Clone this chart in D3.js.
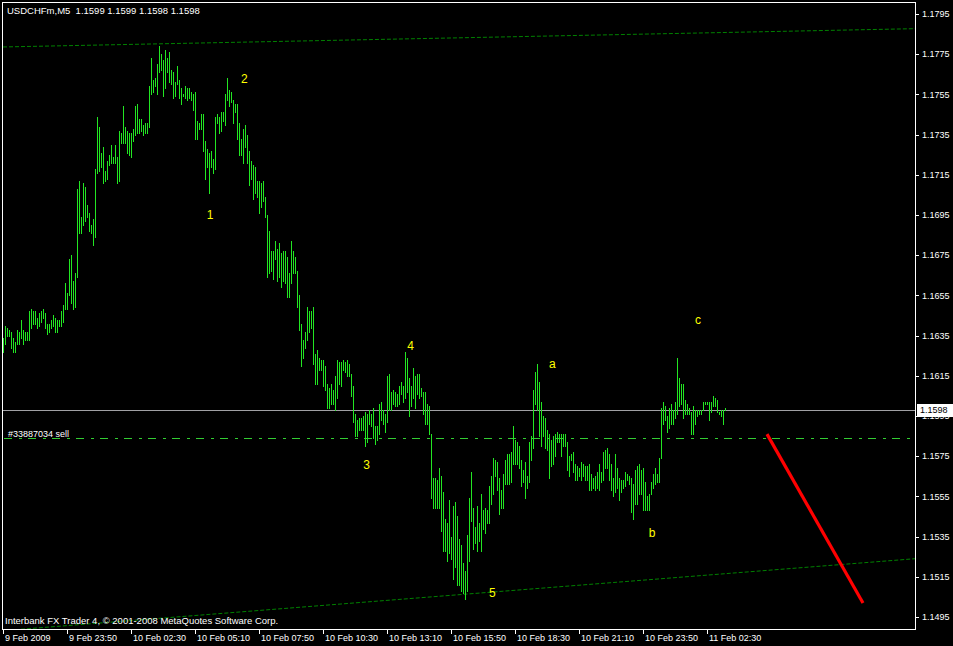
<!DOCTYPE html>
<html><head><meta charset="utf-8">
<script src="https://cdn.jsdelivr.net/npm/d3@7"></script>
<style>html,body{margin:0;padding:0;background:#000;overflow:hidden}svg{display:block}</style>
</head><body><svg id="c" width="953" height="646"></svg>
<script>
const symbolTitle = "USDCHFm,M5";
const titleValues = ["1.1599", "1.1599", "1.1598", "1.1598"];
const copyrightText = "Interbank FX Trader 4, \u00A9 2001-2008 MetaQuotes Software Corp.";

const highs = [
1.1634,1.1640,1.1639,1.1638,1.1637,1.1634,1.1632,1.1638,1.1637,1.1643,
1.1638,1.1637,1.1637,1.1647,1.1648,1.1647,1.1647,1.1644,1.1646,1.1647,
1.1648,1.1646,1.1641,1.1641,1.1643,1.1645,1.1644,1.1643,1.1643,1.1647,
1.1650,1.1661,1.1656,1.1673,1.1675,1.1662,1.1666,1.1708,1.1712,1.1694,
1.1711,1.1709,1.1700,1.1696,1.1690,1.1693,1.1718,1.1744,1.1739,1.1726,
1.1729,1.1717,1.1722,1.1725,1.1730,1.1724,1.1730,1.1724,1.1737,1.1736,
1.1749,1.1739,1.1737,1.1736,1.1736,1.1738,1.1749,1.1750,1.1743,1.1743,
1.1740,1.1741,1.1741,1.1759,1.1773,1.1762,1.1763,1.1770,1.1779,1.1775,
1.1772,1.1777,1.1773,1.1776,1.1767,1.1766,1.1761,1.1769,1.1762,1.1758,
1.1755,1.1759,1.1758,1.1758,1.1756,1.1755,1.1756,1.1742,1.1741,1.1745,
1.1745,1.1732,1.1728,1.1726,1.1727,1.1723,1.1744,1.1745,1.1744,1.1746,
1.1746,1.1755,1.1763,1.1757,1.1756,1.1752,1.1750,1.1750,1.1741,1.1733,
1.1738,1.1740,1.1735,1.1727,1.1722,1.1720,1.1719,1.1712,1.1712,1.1711,
1.1712,1.1704,1.1695,1.1687,1.1677,1.1677,1.1682,1.1678,1.1681,1.1676,
1.1677,1.1677,1.1674,1.1666,1.1682,1.1677,1.1674,1.1667,1.1655,1.1641,
1.1633,1.1637,1.1649,1.1647,1.1647,1.1649,1.1626,1.1628,1.1624,1.1623,
1.1623,1.1620,1.1611,1.1609,1.1611,1.1608,1.1615,1.1623,1.1622,1.1622,
1.1623,1.1622,1.1623,1.1621,1.1616,1.1610,1.1596,1.1593,1.1594,1.1594,
1.1595,1.1597,1.1596,1.1598,1.1596,1.1599,1.1590,1.1590,1.1601,1.1602,
1.1598,1.1596,1.1615,1.1616,1.1607,1.1608,1.1607,1.1606,1.1610,1.1612,
1.1610,1.1627,1.1624,1.1614,1.1610,1.1619,1.1615,1.1616,1.1616,1.1609,
1.1607,1.1607,1.1601,1.1600,1.1586,1.1564,1.1564,1.1563,1.1569,1.1565,
1.1557,1.1544,1.1542,1.1553,1.1535,1.1550,1.1552,1.1545,1.1534,1.1531,
1.1522,1.1518,1.1536,1.1554,1.1567,1.1549,1.1540,1.1550,1.1542,1.1556,
1.1548,1.1549,1.1548,1.1560,1.1565,1.1574,1.1573,1.1572,1.1564,1.1558,
1.1566,1.1573,1.1576,1.1576,1.1577,1.1590,1.1583,1.1582,1.1580,1.1573,
1.1568,1.1572,1.1565,1.1582,1.1585,1.1608,1.1617,1.1621,1.1612,1.1602,
1.1595,1.1594,1.1588,1.1586,1.1583,1.1585,1.1586,1.1587,1.1586,1.1586,
1.1586,1.1586,1.1582,1.1575,1.1576,1.1577,1.1571,1.1570,1.1569,1.1572,
1.1571,1.1570,1.1570,1.1571,1.1566,1.1564,1.1565,1.1567,1.1571,1.1567,
1.1577,1.1578,1.1579,1.1576,1.1571,1.1564,1.1576,1.1569,1.1564,1.1563,
1.1563,1.1567,1.1566,1.1565,1.1564,1.1561,1.1568,1.1570,1.1571,1.1568,
1.1569,1.1562,1.1555,1.1556,1.1562,1.1566,1.1569,1.1566,1.1574,1.1599,
1.1602,1.1600,1.1595,1.1599,1.1601,1.1598,1.1602,1.1624,1.1614,1.1611,
1.1611,1.1603,1.1601,1.1599,1.1597,1.1600,1.1598,1.1598,1.1598,1.1598,
1.1602,1.1602,1.1602,1.1602,1.1602,1.1605,1.1604,1.1603,1.1597,1.1598,
1.1598,1.1599];

const lows = [
1.1627,1.1631,1.1635,1.1635,1.1629,1.1627,1.1627,1.1631,1.1631,1.1634,
1.1631,1.1633,1.1633,1.1633,1.1639,1.1641,1.1641,1.1639,1.1640,1.1642,
1.1644,1.1639,1.1636,1.1637,1.1639,1.1640,1.1637,1.1637,1.1640,1.1640,
1.1642,1.1648,1.1648,1.1655,1.1651,1.1648,1.1649,1.1664,1.1686,1.1686,
1.1690,1.1692,1.1694,1.1687,1.1686,1.1680,1.1684,1.1716,1.1717,1.1719,
1.1711,1.1712,1.1713,1.1720,1.1721,1.1721,1.1721,1.1711,1.1712,1.1731,
1.1731,1.1731,1.1726,1.1725,1.1724,1.1732,1.1735,1.1736,1.1736,1.1737,
1.1735,1.1736,1.1736,1.1739,1.1755,1.1756,1.1759,1.1755,1.1766,1.1767,
1.1754,1.1758,1.1766,1.1761,1.1760,1.1753,1.1754,1.1760,1.1753,1.1750,
1.1754,1.1753,1.1752,1.1753,1.1752,1.1747,1.1733,1.1733,1.1738,1.1738,
1.1727,1.1713,1.1719,1.1706,1.1719,1.1716,1.1718,1.1741,1.1736,1.1737,
1.1742,1.1740,1.1752,1.1749,1.1751,1.1741,1.1746,1.1733,1.1725,1.1725,
1.1721,1.1729,1.1721,1.1710,1.1713,1.1703,1.1706,1.1704,1.1696,1.1699,
1.1702,1.1694,1.1664,1.1666,1.1667,1.1663,1.1673,1.1662,1.1664,1.1659,
1.1662,1.1661,1.1654,1.1654,1.1661,1.1666,1.1666,1.1649,1.1638,1.1620,
1.1624,1.1629,1.1633,1.1637,1.1639,1.1621,1.1611,1.1611,1.1618,1.1618,
1.1610,1.1608,1.1599,1.1599,1.1601,1.1601,1.1598,1.1604,1.1611,1.1610,
1.1618,1.1617,1.1615,1.1615,1.1605,1.1592,1.1585,1.1585,1.1588,1.1588,
1.1588,1.1580,1.1582,1.1591,1.1590,1.1584,1.1581,1.1583,1.1586,1.1593,
1.1591,1.1587,1.1592,1.1598,1.1598,1.1601,1.1600,1.1600,1.1601,1.1606,
1.1602,1.1604,1.1607,1.1595,1.1600,1.1604,1.1599,1.1606,1.1604,1.1605,
1.1596,1.1591,1.1591,1.1586,1.1554,1.1549,1.1549,1.1549,1.1549,1.1538,
1.1528,1.1528,1.1523,1.1527,1.1524,1.1514,1.1520,1.1511,1.1511,1.1508,
1.1507,1.1504,1.1508,1.1523,1.1543,1.1529,1.1532,1.1528,1.1533,1.1528,
1.1539,1.1537,1.1542,1.1542,1.1551,1.1556,1.1565,1.1558,1.1546,1.1549,
1.1549,1.1561,1.1561,1.1561,1.1562,1.1571,1.1571,1.1571,1.1569,1.1560,
1.1562,1.1554,1.1559,1.1562,1.1573,1.1579,1.1601,1.1598,1.1585,1.1580,
1.1585,1.1579,1.1578,1.1564,1.1570,1.1571,1.1575,1.1582,1.1582,1.1575,
1.1580,1.1580,1.1568,1.1565,1.1573,1.1567,1.1563,1.1563,1.1565,1.1563,
1.1565,1.1563,1.1563,1.1558,1.1558,1.1559,1.1558,1.1559,1.1558,1.1562,
1.1563,1.1569,1.1569,1.1563,1.1558,1.1555,1.1557,1.1559,1.1553,1.1557,
1.1559,1.1560,1.1563,1.1561,1.1547,1.1544,1.1551,1.1551,1.1556,1.1556,
1.1548,1.1548,1.1548,1.1548,1.1556,1.1559,1.1561,1.1562,1.1562,1.1574,
1.1591,1.1593,1.1587,1.1589,1.1591,1.1591,1.1594,1.1596,1.1600,1.1601,
1.1594,1.1596,1.1596,1.1596,1.1586,1.1586,1.1591,1.1595,1.1596,1.1596,
1.1598,1.1601,1.1601,1.1593,1.1597,1.1600,1.1600,1.1597,1.1596,1.1595,
1.1591,1.1598];

const timeLabels = ["9 Feb 2009","9 Feb 23:50","10 Feb 02:30","10 Feb 05:10","10 Feb 07:50","10 Feb 10:30",
  "10 Feb 13:10","10 Feb 15:50","10 Feb 18:30","10 Feb 21:10","10 Feb 23:50","11 Feb 02:30"];
const timeLabelBars = [0,32,64,96,128,160,192,224,256,288,320,352];
const priceTicks = [1.1795,1.1775,1.1755,1.1735,1.1715,1.1695,1.1675,1.1655,1.1635,1.1615,1.1595,1.1575,1.1555,1.1535,1.1515,1.1495];
const currentPrice = 1.1598;
const orderPrice = 1.1584;
const orderLabel = "#33887034 sell";
const upperTrend = [{bar: 0, price: 1.17786}, {bar: 456, price: 1.17877}];
const lowerTrend = [{bar: 0, price: 1.14882}, {bar: 456, price: 1.15240}];
const redArrow = [{bar: 382, price: 1.1586}, {bar: 430, price: 1.1502}];
const waveLabels = [
  {t: "1", bar: 103.5, price: 1.1695},
  {t: "2", bar: 120.7, price: 1.1763},
  {t: "3", bar: 181.8, price: 1.1571},
  {t: "4", bar: 203.8, price: 1.1630},
  {t: "5", bar: 244.7, price: 1.1507},
  {t: "a", bar: 274.7, price: 1.1621},
  {t: "b", bar: 324.5, price: 1.1537},
  {t: "c", bar: 347.5, price: 1.1643}
];

const W = 953, H = 646;
const plot = {left: 2, top: 2, right: 915, bottom: 629};
const FONT = "'Liberation Sans', Arial, sans-serif";
const BAR_COLOR = "#22e622";

const svg = d3.select("#c");
svg.append("rect").attr("width", W).attr("height", H).attr("fill", "#000");

const x = d3.scaleLinear().domain([0, 456]).range([3, 915]);
const y = d3.scaleLinear().domain([1.1495, 1.1795]).range([617, 14]);

const defs = svg.append("defs");
defs.append("clipPath").attr("id", "plotclip").append("rect")
  .attr("x", plot.left + 1).attr("y", plot.top + 1)
  .attr("width", plot.right - plot.left - 1).attr("height", plot.bottom - plot.top - 1);

const g = svg.append("g").attr("clip-path", "url(#plotclip)");

// trend lines
const lineGen = d3.line().x(d => x(d.bar)).y(d => y(d.price));
[upperTrend, lowerTrend].forEach(tl => {
  g.append("path").attr("d", lineGen(tl)).attr("fill", "none")
    .attr("stroke", "#008000").attr("stroke-width", 1).attr("stroke-dasharray", "4,2");
});

// current price line
g.append("line").attr("x1", plot.left).attr("x2", plot.right)
  .attr("y1", Math.round(y(currentPrice)) + 0.5).attr("y2", Math.round(y(currentPrice)) + 0.5)
  .attr("stroke", "#a0a0a4").attr("stroke-width", 1).attr("shape-rendering", "crispEdges");

// order line
g.append("line").attr("x1", 4).attr("x2", plot.right)
  .attr("y1", Math.round(y(orderPrice)) + 0.5).attr("y2", Math.round(y(orderPrice)) + 0.5)
  .attr("stroke", "#32cd32").attr("stroke-width", 1).attr("stroke-dasharray", "8,7,3,6")
  .attr("shape-rendering", "crispEdges");

// bars
const bars = highs.map((h, i) => ({i, h, l: lows[i]}));
g.selectAll("rect.bar").data(bars).join("rect").attr("class", "bar")
  .attr("x", d => Math.round(x(d.i)))
  .attr("y", d => Math.round(y(d.h)))
  .attr("width", 1)
  .attr("height", d => Math.max(1, Math.round(y(d.l)) - Math.round(y(d.h)) + 1))
  .attr("fill", BAR_COLOR).attr("shape-rendering", "crispEdges");

// red arrow line
g.append("path").attr("d", lineGen(redArrow)).attr("fill", "none")
  .attr("stroke", "#ff0000").attr("stroke-width", 3.2);

// wave labels
g.selectAll("text.wave").data(waveLabels).join("text").attr("class", "wave")
  .attr("x", d => x(d.bar)).attr("y", d => y(d.price))
  .attr("dy", "0.36em").attr("text-anchor", "middle")
  .attr("fill", "#ffff00").attr("font-family", FONT).attr("font-size", 12)
  .text(d => d.t);

// order label
g.append("text").attr("x", 8).attr("y", 437).attr("fill", "#fff")
  .attr("font-family", FONT).attr("font-size", 9).text(orderLabel);

// title
svg.append("text").attr("x", 7).attr("y", 14).attr("fill", "#fff")
  .attr("font-family", FONT).attr("font-size", 9.5).attr("xml:space", "preserve")
  .text(symbolTitle + "  " + titleValues.join(" "));

// copyright
svg.append("text").attr("x", 5).attr("y", 624).attr("fill", "#fff")
  .attr("font-family", FONT).attr("font-size", 9.5).text(copyrightText);

// frame
svg.append("rect").attr("x", plot.left + 0.5).attr("y", plot.top + 0.5)
  .attr("width", plot.right - plot.left).attr("height", plot.bottom - plot.top)
  .attr("fill", "none").attr("stroke", "#fff").attr("stroke-width", 1)
  .attr("shape-rendering", "crispEdges");

// right axis
const ra = svg.append("g");
ra.selectAll("line").data(priceTicks).join("line")
  .attr("x1", plot.right + 1).attr("x2", plot.right + 4)
  .attr("y1", d => Math.round(y(d)) + 0.5).attr("y2", d => Math.round(y(d)) + 0.5)
  .attr("stroke", "#fff").attr("shape-rendering", "crispEdges");
ra.selectAll("text").data(priceTicks).join("text")
  .attr("x", 922).attr("y", d => y(d)).attr("dy", "0.35em")
  .attr("fill", "#fff").attr("font-family", FONT).attr("font-size", 9)
  .text(d => d3.format(".4f")(d));

// current price box
const cy = Math.round(y(currentPrice));
svg.append("rect").attr("x", 917).attr("y", cy - 6).attr("width", 36).attr("height", 13)
  .attr("fill", "#fff");
svg.append("text").attr("x", 920).attr("y", cy).attr("dy", "0.36em")
  .attr("fill", "#000").attr("font-family", FONT).attr("font-size", 9)
  .text(d3.format(".4f")(currentPrice));

// bottom axis
const ba = svg.append("g");
ba.selectAll("line").data(timeLabelBars).join("line")
  .attr("x1", d => Math.round(x(d)) + 0.5).attr("x2", d => Math.round(x(d)) + 0.5)
  .attr("y1", plot.bottom + 1).attr("y2", plot.bottom + 5)
  .attr("stroke", "#fff").attr("shape-rendering", "crispEdges");
ba.selectAll("text").data(timeLabelBars).join("text")
  .attr("x", d => x(d) + 2).attr("y", 641)
  .attr("fill", "#fff").attr("font-family", FONT).attr("font-size", 9)
  .text((d, i) => timeLabels[i]);
</script></body></html>
